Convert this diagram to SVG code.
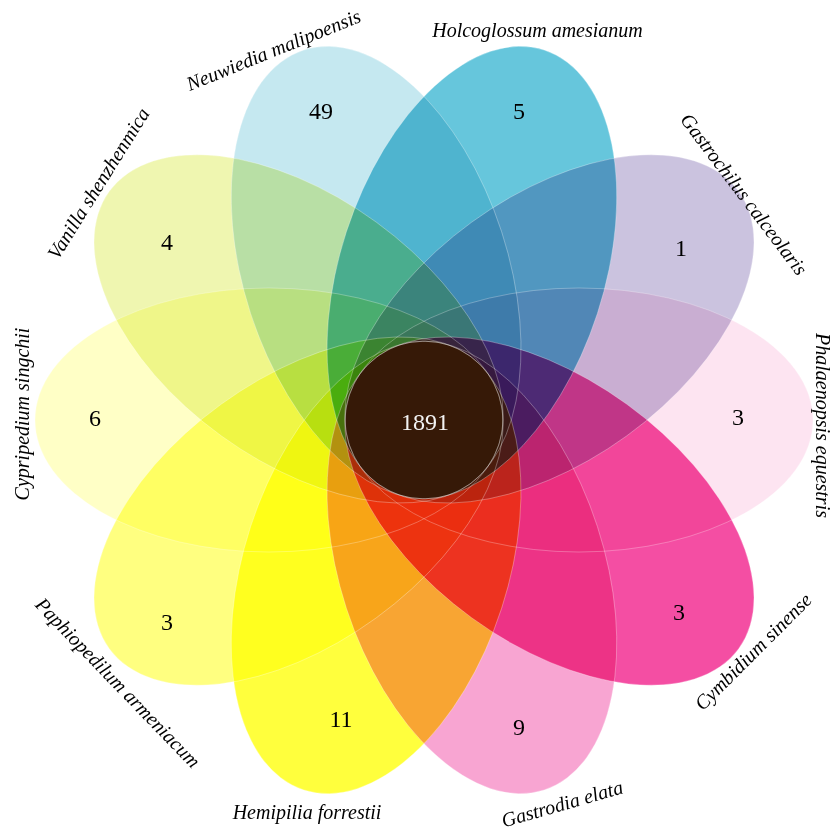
<svg xmlns="http://www.w3.org/2000/svg" width="834" height="831" viewBox="0 0 834 831">
<style>
.petal{mix-blend-mode:multiply}
.num{font-family:"Liberation Serif","Times New Roman",serif;font-size:24px;fill:#000;text-anchor:middle}
.lab{font-family:"Liberation Serif","Times New Roman",serif;font-size:20px;font-style:italic;fill:#000;text-anchor:middle}
.edge{fill:none;stroke:#ffffff;stroke-opacity:0.35;stroke-width:0.8}
</style>
<defs>
<ellipse id="el" cx="155" cy="0" rx="234" ry="132"/>
</defs>
<rect x="0" y="0" width="834" height="831" fill="#ffffff"/>
<g style="isolation:isolate">
<g id="phalaenopsis" class="petal">
<use href="#el" transform="translate(424 420) rotate(0)" fill="#fde4f1"/>
<text class="num" x="738" y="425">3</text>
<text class="lab" transform="translate(821 425.5) rotate(90)" y="5.5">Phalaenopsis equestris</text>
</g>
<g id="cymbidium" class="petal">
<use href="#el" transform="translate(424 420) rotate(36)" fill="#f44ea3"/>
<text class="num" x="679" y="620">3</text>
<text class="lab" transform="translate(754 652.5) rotate(-45)" y="5.5">Cymbidium sinense</text>
</g>
<g id="gastrodia" class="petal">
<use href="#el" transform="translate(424 420) rotate(72)" fill="#f8a5d2"/>
<text class="num" x="519" y="735">9</text>
<text class="lab" transform="translate(562.5 805) rotate(-16)" y="5.5">Gastrodia elata</text>
</g>
<g id="hemipilia" class="petal">
<use href="#el" transform="translate(424 420) rotate(108)" fill="#ffff3d"/>
<text class="num" x="341" y="727">11</text>
<text class="lab" x="307" y="819">Hemipilia forrestii</text>
</g>
<g id="paphiopedilum" class="petal">
<use href="#el" transform="translate(424 420) rotate(144)" fill="#ffff80"/>
<text class="num" x="167" y="630">3</text>
<text class="lab" transform="translate(117 683.5) rotate(46)" y="5.5">Paphiopedilum armeniacum</text>
</g>
<g id="cypripedium" class="petal">
<use href="#el" transform="translate(424 420) rotate(180)" fill="#ffffc6"/>
<text class="num" x="95" y="426">6</text>
<text class="lab" transform="translate(23.5 414) rotate(-90)" y="5.5">Cypripedium singchii</text>
</g>
<g id="vanilla" class="petal">
<use href="#el" transform="translate(424 420) rotate(216)" fill="#eff6b0"/>
<text class="num" x="167" y="250">4</text>
<text class="lab" transform="translate(99.5 184) rotate(-58)" y="5.5">Vanilla shenzhenmica</text>
</g>
<g id="neuwiedia" class="petal">
<use href="#el" transform="translate(424 420) rotate(252)" fill="#c5e8f0"/>
<text class="num" x="321" y="119">49</text>
<text class="lab" transform="translate(274 51) rotate(-22)" y="5.5">Neuwiedia malipoensis</text>
</g>
<g id="holcoglossum" class="petal">
<use href="#el" transform="translate(424 420) rotate(288)" fill="#66c6dc"/>
<text class="num" x="519" y="119">5</text>
<text class="lab" x="537.5" y="37">Holcoglossum amesianum</text>
</g>
<g id="gastrochilus" class="petal">
<use href="#el" transform="translate(424 420) rotate(324)" fill="#cbc3df"/>
<text class="num" x="681" y="256">1</text>
<text class="lab" transform="translate(743 195) rotate(53)" y="5.5">Gastrochilus calceolaris</text>
</g>
</g>
<g id="connectors">
<use href="#el" class="edge" transform="translate(424 420) rotate(0)"/>
<use href="#el" class="edge" transform="translate(424 420) rotate(36)"/>
<use href="#el" class="edge" transform="translate(424 420) rotate(72)"/>
<use href="#el" class="edge" transform="translate(424 420) rotate(108)"/>
<use href="#el" class="edge" transform="translate(424 420) rotate(144)"/>
<use href="#el" class="edge" transform="translate(424 420) rotate(180)"/>
<use href="#el" class="edge" transform="translate(424 420) rotate(216)"/>
<use href="#el" class="edge" transform="translate(424 420) rotate(252)"/>
<use href="#el" class="edge" transform="translate(424 420) rotate(288)"/>
<use href="#el" class="edge" transform="translate(424 420) rotate(324)"/>
</g>
<g id="core">
<text class="num" x="425" y="430" style="fill:#f2f2f2">1891</text>
</g>
</svg>
